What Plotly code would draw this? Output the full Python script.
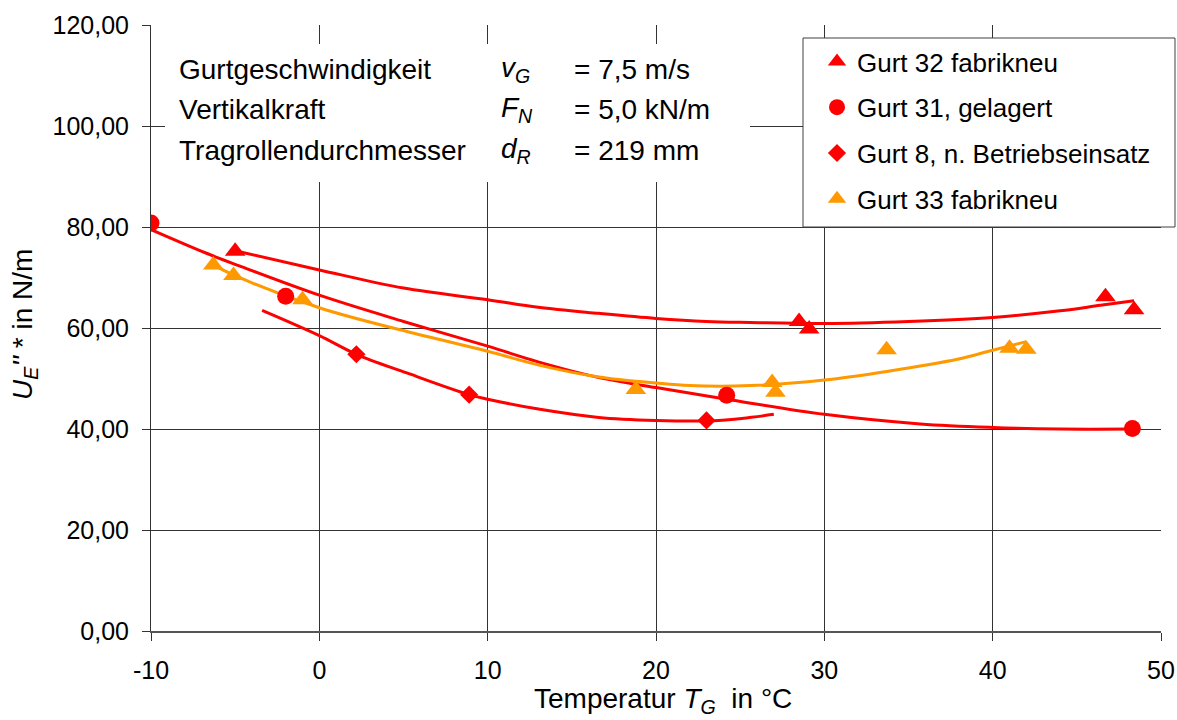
import plotly.graph_objects as go

FONT = "Liberation Sans, Arial, sans-serif"
RED = "#FF0000"
ORANGE = "#FF9900"
GRID = "#333333"

# Measured points: temperature T_G in °C, U_E''* in N/m
g32_t = [-5.0, 28.5, 29.1, 46.7, 48.4]
g32_u = [75.2, 61.3, 59.8, 66.2, 63.6]

g31_t = [-10.0, -2.0, 24.2, 48.3]
g31_u = [80.8, 66.3, 46.7, 40.1]

g8_t = [2.2, 8.9, 23.0]
g8_u = [54.8, 46.8, 41.7]

g33_t = [-6.3, -5.1, -1.0, 18.8, 26.9, 27.1, 33.7, 41.0, 42.0]
g33_u = [72.5, 70.4, 65.6, 47.8, 49.2, 47.3, 55.7, 56.0, 55.8]

# Trend curves through each series
g32_fit_t = [-5.0, 0.0, 5.0, 10.0, 13.0, 16.6, 20.0, 23.0, 25.6, 30.0, 35.0, 40.0, 44.0, 46.4, 48.4]
g32_fit_u = [75.3, 71.5, 67.9, 65.6, 64.1, 62.9, 61.9, 61.3, 61.1, 60.9, 61.3, 62.1, 63.4, 64.5, 65.4]

g31_fit_t = [-10.0, -6.7, -4.75, 0.0, 5.0, 10.0, 13.0, 16.6, 20.0, 24.2, 30.0, 35.7, 40.0, 44.0, 48.3]
g31_fit_u = [79.5, 74.8, 72.3, 66.5, 61.3, 56.4, 53.3, 50.2, 48.2, 45.9, 42.9, 41.0, 40.3, 40.0, 40.0]

g8_fit_t = [-3.4, 0.0, 2.2, 5.2, 8.9, 10.0, 13.1, 16.6, 20.0, 23.0, 25.1, 27.0]
g8_fit_u = [63.5, 58.5, 54.8, 51.1, 46.8, 45.9, 43.9, 42.3, 41.7, 41.6, 42.1, 42.9]

g33_fit_t = [-6.3, -5.1, 0.0, 5.2, 10.0, 13.1, 16.6, 20.0, 22.0, 25.6, 30.0, 33.7, 37.9, 40.0, 42.0]
g33_fit_u = [72.5, 70.5, 64.0, 59.3, 55.4, 52.6, 50.3, 49.1, 48.6, 48.6, 49.7, 51.4, 53.8, 55.6, 57.3]

x_ticks = [-10, 0, 10, 20, 30, 40, 50]
x_tick_text = ["-10", "0", "10", "20", "30", "40", "50"]
y_ticks = [0, 20, 40, 60, 80, 100, 120]
y_tick_text = ["0,00", "20,00", "40,00", "60,00", "80,00", "100,00", "120,00"]

# plot area in pixels
L, R, T, B = 151, 16, 25, 89
PW, PH = 1177 - L - R, 720 - T - B


def px(x):
    return (x - L) / PW


def py(y):
    return (720 - B - y) / PH


fig = go.Figure()

# trend lines (no legend entries)
for t, u, c in [(g32_fit_t, g32_fit_u, RED), (g31_fit_t, g31_fit_u, RED),
                (g8_fit_t, g8_fit_u, RED), (g33_fit_t, g33_fit_u, ORANGE)]:
    fig.add_trace(go.Scatter(x=t, y=u, mode="lines", showlegend=False,
                             line=dict(color=c, width=3, shape="spline", smoothing=1.0),
                             hoverinfo="skip"))

series = [
    ("Gurt 32 fabrikneu", g32_t, g32_u, "triangle-up", RED, 18),
    ("Gurt 31, gelagert", g31_t, g31_u, "circle", RED, 17),
    ("Gurt 8, n. Betriebseinsatz", g8_t, g8_u, "diamond", RED, 14),
    ("Gurt 33 fabrikneu", g33_t, g33_u, "triangle-up", ORANGE, 18),
]
for i, (name, t, u, sym, c, s) in enumerate(series):
    fig.add_trace(go.Scatter(x=t, y=u, mode="markers", name=name, legendgroup=str(i),
                             marker=dict(symbol=sym, color=c, size=s, line=dict(width=0))))

shapes = [
    # white panel behind the parameter text
    dict(type="rect", xref="paper", yref="paper", x0=px(165), x1=px(750), y0=py(182), y1=py(44),
         fillcolor="white", line=dict(width=0), layer="above"),
    # legend frame
    dict(type="rect", xref="paper", yref="paper", x0=px(803), x1=px(1175), y0=py(227), y1=py(38),
         fillcolor="white", line=dict(color="#404040", width=1), layer="above"),
]

tf = dict(family=FONT, size=28, color="black")
rows_y = [69, 109, 150]
labels = ["Gurtgeschwindigkeit", "Vertikalkraft", "Tragrollendurchmesser"]
symbols = ["<i>v<sub>G</sub></i>", "<i>F<sub>N</sub></i>", "<i>d<sub>R</sub></i>"]
values = ["= 7,5 m/s", "= 5,0 kN/m", "= 219 mm"]
annotations = []
for y, lab, sym, val in zip(rows_y, labels, symbols, values):
    annotations.append(dict(xref="paper", yref="paper", x=px(177), y=py(y), text=lab, showarrow=False,
                            xanchor="left", yanchor="middle", font=tf))
    annotations.append(dict(xref="paper", yref="paper", x=px(499), y=py(y), text=sym, showarrow=False,
                            xanchor="left", yanchor="middle", font=tf))
    annotations.append(dict(xref="paper", yref="paper", x=px(572), y=py(y), text=val, showarrow=False,
                            xanchor="left", yanchor="middle", font=tf))

# axis titles
annotations.append(dict(xref="paper", yref="paper", x=px(663), y=py(700),
                        text="Temperatur <i>T<sub>G</sub></i>  in °C", showarrow=False,
                        xanchor="center", yanchor="middle", font=dict(family=FONT, size=28, color="black")))
annotations.append(dict(xref="paper", yref="paper", x=px(24), y=py(325),
                        text="<i>U<sub>E</sub>''</i> * in N/m", showarrow=False, textangle=-90,
                        xanchor="center", yanchor="middle", font=dict(family=FONT, size=28, color="black")))

fig.update_layout(
    width=1177, height=720,
    margin=dict(l=L, r=R, t=T, b=B, autoexpand=False),
    paper_bgcolor="white", plot_bgcolor="white",
    font=dict(family=FONT, size=25, color="black"),
    shapes=shapes, annotations=annotations,
    legend=dict(x=px(817), y=py(38), xanchor="left", yanchor="top",
                bgcolor="rgba(0,0,0,0)", borderwidth=0,
                font=dict(family=FONT, size=26, color="black"),
                traceorder="grouped", tracegroupgap=9, itemwidth=30),
    xaxis=dict(range=[-10, 50], tickmode="array", tickvals=x_ticks, ticktext=x_tick_text,
               showgrid=True, gridcolor=GRID, gridwidth=1, zeroline=False,
               showline=True, linecolor="#555555", linewidth=2,
               ticks="outside", ticklen=8, tickcolor=GRID, ticklabelstandoff=8,
               tickfont=dict(family=FONT, size=25, color="black")),
    yaxis=dict(range=[0, 120], tickmode="array", tickvals=y_ticks, ticktext=y_tick_text,
               showgrid=True, gridcolor=GRID, gridwidth=1, zeroline=False,
               showline=True, linecolor=GRID, linewidth=1,
               ticks="outside", ticklen=8, tickcolor=GRID, ticklabelstandoff=8,
               tickfont=dict(family=FONT, size=25, color="black")),
)

fig.write_html("out.html")
